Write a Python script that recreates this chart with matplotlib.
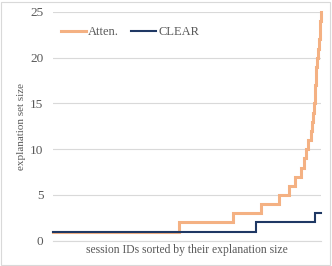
import numpy as np
import matplotlib
matplotlib.use("Agg")
import matplotlib.pyplot as plt
from matplotlib.patches import Rectangle

# explanation set sizes and how many sessions have each size
atten_sizes = [1, 2, 3, 4, 5, 6, 7, 8, 9, 10, 11, 12, 13, 14, 15, 17, 19, 20, 21, 22, 24, 25]
atten_counts = [125, 54, 28, 18, 10, 6, 6, 3, 2, 2, 3, 1, 1, 1, 1, 1, 1, 1, 1, 1, 1, 1]
clear_sizes = [1, 2, 3]
clear_counts = [202, 59, 7]

series_names = ["Atten.", "CLEAR"]
y_ticks = [0, 5, 10, 15, 20, 25]
x_label = "session IDs sorted by their explanation size"
y_label = "explanation set size"

atten = np.repeat(atten_sizes, atten_counts)
clear = np.repeat(clear_sizes, clear_counts)
x = np.arange(len(atten))

plt.rcParams['font.family'] = ['Liberation Serif', 'DejaVu Serif']

fig = plt.figure(figsize=(3.32, 2.66), dpi=100)
ax = fig.add_axes([0.16, 0.095, 0.807, 0.86])

ax.plot(x, atten, drawstyle='steps-post', color='#F4B183', lw=2.2,
        label=series_names[0], clip_on=False, solid_joinstyle='miter', zorder=3)
ax.plot(x, clear, drawstyle='steps-post', color='#1F3864', lw=1.5,
        label=series_names[1], clip_on=False, solid_joinstyle='miter', zorder=4)

ax.set_xlim(0, len(atten) - 1)
ax.set_ylim(0, 25)
ax.set_yticks(y_ticks)
ax.set_xticks([])
ax.grid(axis='y', color='#D9D9D9', lw=0.8)
ax.set_axisbelow(True)
for s in ['top', 'right', 'left']:
    ax.spines[s].set_visible(False)
ax.spines['bottom'].set_color('#D9D9D9')
ax.spines['bottom'].set_linewidth(0.8)
ax.tick_params(axis='y', length=0, pad=7, labelsize=9.5, labelcolor='#595959')

ax.set_xlabel(x_label, fontsize=8.4, color='#595959', labelpad=2)
ax.set_ylabel(y_label, fontsize=8.0, color='#595959', labelpad=3)

leg = ax.legend(loc='upper left', ncol=2, frameon=False, fontsize=9,
                bbox_to_anchor=(0.01, 0.96), handlelength=2.0, handletextpad=0.15,
                columnspacing=1.0, borderaxespad=0)
for t in leg.get_texts():
    t.set_color('#595959')

fig.patches.append(Rectangle((0.003, 0.004), 0.992, 0.99, transform=fig.transFigure,
                             fill=False, edgecolor='#D9D9D9', lw=0.8))

fig.savefig('out.png', dpi=100)
